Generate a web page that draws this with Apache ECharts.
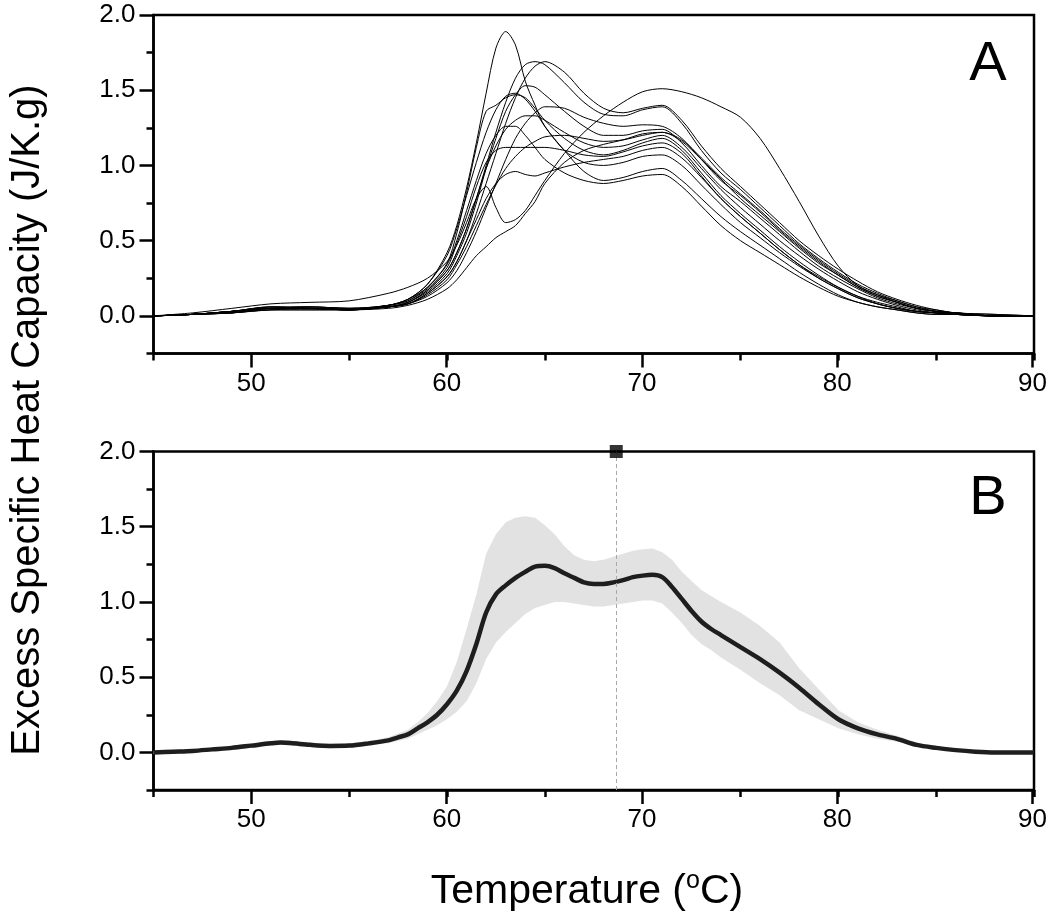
<!DOCTYPE html>
<html><head><meta charset="utf-8">
<script src="https://cdn.jsdelivr.net/npm/echarts@6/dist/echarts.min.js"></script>
<style>html,body{margin:0;padding:0;background:#fff}#chart{width:1050px;height:918px}</style>
</head><body><div id="chart"></div>
<script>
// ---------- Panel A: individual DSC curves ----------
const tempsA = [45,47,49,51,53,55,57,58,59,60,60.5,61,61.5,62,62.5,63,63.5,64,64.5,65,66,67,68,69,70,71,72,73,74,75,76,77,78,79,80,81,82,83,84,85,86,88,90];
const curve1  = [0.00,0.01,0.03,0.06,0.05,0.04,0.07,0.11,0.21, 0.42,0.60,0.85,1.15,1.48,1.78,1.89,1.80,1.56,1.40,1.26,1.10,0.96,0.90,0.92,0.96,0.98,0.90,0.78,0.66,0.56,0.47,0.38,0.29,0.21,0.14,0.09,0.06,0.04,0.02,0.01,0.01,0.00,0.00];
const curve2  = [0.00,0.01,0.03,0.05,0.06,0.05,0.06,0.09,0.17, 0.30,0.42,0.58,0.78,1.00,1.22,1.42,1.58,1.67,1.69,1.67,1.55,1.42,1.34,1.33,1.37,1.39,1.28,1.10,0.95,0.84,0.72,0.60,0.48,0.38,0.29,0.21,0.15,0.10,0.06,0.03,0.02,0.00,0.00];
const curve3  = [0.00,0.01,0.02,0.05,0.05,0.04,0.06,0.08,0.15, 0.26,0.36,0.50,0.68,0.88,1.08,1.28,1.45,1.58,1.66,1.69,1.62,1.48,1.38,1.35,1.38,1.40,1.30,1.13,0.98,0.86,0.74,0.62,0.50,0.40,0.31,0.23,0.16,0.11,0.07,0.04,0.02,0.01,0.00];
const curve4  = [0.00,0.01,0.03,0.06,0.05,0.05,0.06,0.09,0.16, 0.28,0.40,0.55,0.75,0.98,1.18,1.36,1.47,1.53,1.52,1.47,1.36,1.26,1.20,1.20,1.23,1.24,1.15,1.00,0.86,0.76,0.65,0.54,0.43,0.33,0.25,0.18,0.12,0.08,0.05,0.03,0.01,0.00,0.00];
const curve5  = [0.00,0.01,0.03,0.05,0.05,0.04,0.07,0.11,0.19, 0.35,0.55,0.82,1.12,1.36,1.40,1.45,1.47,1.45,1.38,1.30,1.18,1.10,1.07,1.10,1.15,1.18,1.10,0.95,0.80,0.68,0.57,0.46,0.36,0.27,0.19,0.13,0.08,0.05,0.03,0.02,0.01,0.00,0.00];
const curve6  = [0.00,0.01,0.02,0.04,0.04,0.04,0.06,0.08,0.13, 0.22,0.30,0.42,0.56,0.72,0.88,1.04,1.18,1.28,1.35,1.39,1.38,1.32,1.28,1.26,1.27,1.26,1.18,1.04,0.90,0.80,0.69,0.57,0.46,0.36,0.27,0.19,0.13,0.09,0.05,0.03,0.02,0.00,0.00];
const curve7  = [0.00,0.01,0.03,0.05,0.05,0.04,0.06,0.09,0.17, 0.30,0.42,0.58,0.78,0.98,1.13,1.24,1.30,1.33,1.33,1.30,1.22,1.15,1.12,1.13,1.17,1.20,1.12,0.98,0.84,0.72,0.61,0.50,0.40,0.31,0.23,0.16,0.11,0.07,0.04,0.02,0.01,0.00,0.00];
const curve8  = [0.00,0.01,0.03,0.05,0.06,0.05,0.07,0.10,0.18, 0.32,0.48,0.66,0.86,1.02,1.10,1.12,1.12,1.12,1.12,1.12,1.10,1.07,1.06,1.09,1.13,1.15,1.08,0.93,0.78,0.66,0.55,0.44,0.34,0.25,0.18,0.12,0.08,0.05,0.03,0.02,0.01,0.00,0.00];
const curve9  = [0.00,0.01,0.02,0.05,0.05,0.04,0.06,0.08,0.15, 0.26,0.36,0.50,0.64,0.78,0.88,0.94,0.96,0.94,0.93,0.95,0.99,1.02,1.04,1.06,1.10,1.12,1.05,0.92,0.78,0.66,0.55,0.44,0.34,0.26,0.19,0.13,0.09,0.06,0.03,0.02,0.01,0.00,0.00];
const curve10 = [0.00,0.02,0.05,0.08,0.09,0.10,0.15,0.19,0.25, 0.36,0.47,0.62,0.78,0.86,0.72,0.62,0.64,0.70,0.80,0.90,1.08,1.22,1.33,1.42,1.49,1.51,1.49,1.45,1.39,1.32,1.18,0.98,0.76,0.53,0.33,0.20,0.14,0.10,0.06,0.04,0.02,0.01,0.00];
const curve11 = [0.00,0.01,0.02,0.04,0.04,0.04,0.05,0.07,0.11, 0.18,0.24,0.32,0.40,0.46,0.52,0.56,0.60,0.68,0.76,0.88,1.02,1.10,1.14,1.17,1.21,1.22,1.17,1.05,0.92,0.81,0.70,0.58,0.47,0.37,0.28,0.20,0.14,0.09,0.05,0.03,0.02,0.00,0.00];
const curve12 = [0.00,0.01,0.03,0.05,0.05,0.04,0.07,0.10,0.19, 0.34,0.50,0.70,0.90,1.08,1.20,1.26,1.26,1.20,1.12,1.04,0.95,0.90,0.88,0.90,0.93,0.94,0.86,0.73,0.60,0.50,0.42,0.34,0.26,0.19,0.13,0.09,0.06,0.04,0.02,0.01,0.01,0.00,0.00];
const curve13 = [0.00,0.01,0.03,0.06,0.06,0.05,0.07,0.11,0.21, 0.40,0.58,0.80,1.02,1.22,1.37,1.46,1.48,1.44,1.36,1.26,1.10,1.02,1.00,1.02,1.06,1.07,1.00,0.87,0.74,0.62,0.52,0.42,0.33,0.25,0.18,0.12,0.08,0.05,0.03,0.02,0.01,0.00,0.00];
const curve14 = [0.00,0.01,0.02,0.04,0.05,0.04,0.06,0.08,0.14, 0.24,0.34,0.46,0.60,0.74,0.87,0.98,1.06,1.12,1.16,1.19,1.20,1.18,1.16,1.17,1.20,1.22,1.16,1.04,0.91,0.78,0.67,0.56,0.45,0.35,0.27,0.19,0.13,0.09,0.05,0.03,0.02,0.00,0.00];
const curvesA = [curve1,curve2,curve3,curve4,curve5,curve6,curve7,curve8,curve9,curve10,curve11,curve12,curve13,curve14];

// ---------- Panel B: mean curve with error bars ----------
const tempsB = [45,46,47,48,49,50,51,51.5,52,53,54,55,56,57,57.5,58,58.5,59,59.5,60,60.5,61,61.5,62,62.5,63,63.5,64,64.5,65,65.5,66,66.5,67,67.5,68,68.5,69,69.5,70,70.5,71,71.5,72,72.5,73,73.5,74,75,76,77,78,79,80,81,82,83,84,85,86,87,88,89,90];
const meanB  = [0.00,0.005,0.01,0.02,0.03,0.045,0.06,0.065,0.062,0.05,0.043,0.045,0.06,0.08,0.10,0.12,0.16,0.20,0.25,0.32,0.41,0.54,0.72,0.93,1.05,1.11,1.16,1.20,1.235,1.24,1.225,1.19,1.16,1.13,1.12,1.12,1.13,1.145,1.165,1.175,1.18,1.165,1.10,1.02,0.94,0.87,0.82,0.78,0.70,0.62,0.53,0.43,0.32,0.22,0.16,0.12,0.09,0.05,0.03,0.015,0.005,0.00,0.00,0.00];
const upperB = [0.01,0.015,0.02,0.03,0.045,0.06,0.075,0.08,0.078,0.065,0.058,0.06,0.075,0.10,0.125,0.15,0.20,0.26,0.34,0.44,0.60,0.82,1.05,1.32,1.45,1.53,1.56,1.57,1.56,1.51,1.45,1.37,1.31,1.28,1.27,1.28,1.30,1.32,1.34,1.35,1.355,1.33,1.28,1.20,1.14,1.08,1.04,1.00,0.93,0.84,0.73,0.56,0.42,0.28,0.20,0.15,0.11,0.065,0.04,0.025,0.012,0.008,0.008,0.008];
const lowerB = [-0.01,-0.005,0.00,0.01,0.015,0.03,0.045,0.05,0.046,0.035,0.028,0.03,0.045,0.06,0.075,0.09,0.12,0.15,0.18,0.22,0.27,0.34,0.46,0.62,0.73,0.80,0.86,0.92,0.96,0.98,1.00,1.00,0.99,0.98,0.97,0.97,0.98,0.99,1.00,1.01,1.01,0.99,0.93,0.86,0.78,0.72,0.68,0.63,0.55,0.46,0.38,0.28,0.22,0.16,0.12,0.09,0.07,0.04,0.02,0.005,-0.002,-0.008,-0.008,-0.008];
const markerTemp = 68.65;
const markerValue = 2.0;

// ---------- Axes / text ----------
const xMin = 45, xMax = 90, xMinorStep = 5, xMajorMin = 50, xMajorStep = 10;
const yMin = -0.25, yMax = 2.0, yMinorStep = 0.25, yMajorMin = 0, yMajorStep = 0.5;
const xTitleMain = 'Temperature (';
const xTitleSup = 'o';
const xTitleEnd = 'C)';
const yTitle = 'Excess Specific Heat Capacity (J/K.g)';
const panelLabels = ['A','B'];

const FONT = '"Liberation Sans", Arial, Helvetica, sans-serif';
const chart = echarts.init(document.getElementById('chart'), null, {renderer:'canvas'});

const PL = 153.5, PR = 16, PW = 1050 - PL - PR, PH = 338.5;
const panelTops = [15, 451.5];
const grids = [], xAxis = [], yAxis = [];
const lineStyle = {color:'#000', width:2.5};
panelTops.forEach(top => {
  // main grid (data + minor ticks + frame)
  grids.push({left:PL, right:PR, top:top, height:PH, show:true, borderColor:'#000', borderWidth:2.5});
  xAxis.push({type:'value', gridIndex:grids.length-1, min:xMin, max:xMax, interval:xMinorStep, splitLine:{show:false},
    axisLine:{onZero:false, lineStyle}, axisTick:{length:7, lineStyle}, axisLabel:{show:false}});
  yAxis.push({type:'value', gridIndex:grids.length-1, min:yMin, max:yMax, interval:yMinorStep, splitLine:{show:false},
    axisLine:{onZero:false, lineStyle}, axisTick:{length:7, lineStyle}, axisLabel:{show:false}});
  // overlay grid for major x ticks + labels (axis starts at first major tick)
  const xOff = PW * (xMajorMin - xMin) / (xMax - xMin);
  grids.push({left:PL + xOff, right:PR, top:top, height:PH, show:false});
  xAxis.push({type:'value', gridIndex:grids.length-1, min:xMajorMin, max:xMax, interval:xMajorStep, splitLine:{show:false},
    axisLine:{show:false, onZero:false}, axisTick:{length:14, lineStyle},
    axisLabel:{color:'#000', fontSize:26, fontFamily:FONT, margin:17}});
  yAxis.push({type:'value', gridIndex:grids.length-1, min:yMin, max:yMax, show:false});
  // overlay grid for major y ticks + labels (axis starts at first major tick)
  const yH = PH * (yMax - yMajorMin) / (yMax - yMin);
  grids.push({left:PL, right:PR, top:top, height:yH, show:false});
  xAxis.push({type:'value', gridIndex:grids.length-1, min:xMin, max:xMax, show:false});
  yAxis.push({type:'value', gridIndex:grids.length-1, min:yMajorMin, max:yMax, interval:yMajorStep, splitLine:{show:false},
    axisLine:{show:false, onZero:false}, axisTick:{length:14, lineStyle},
    axisLabel:{color:'#000', fontSize:26, fontFamily:FONT, margin:18, formatter:v=>Number(v).toFixed(1)}});
});
const A = 0, B = 3; // axis indices of the data grids

const series = [];
curvesA.forEach((c,k)=>{
  series.push({type:'line', name:'run'+(k+1), xAxisIndex:A, yAxisIndex:A, showSymbol:false, smooth:0.3,
    data: tempsA.map((t,i)=>[t,c[i]]), lineStyle:{color:'#000', width:1}, silent:true, z:3});
});
// error band
series.push({type:'custom', xAxisIndex:B, yAxisIndex:B, silent:true, z:2,
  data: tempsB.map((t,i)=>[t, lowerB[i], upperB[i]]),
  renderItem:(params, api)=>{
    if (params.dataIndex !== 0) return null;
    const top = [], bot = [];
    for (let i=0;i<tempsB.length;i++){
      top.push(api.coord([tempsB[i], upperB[i]]));
      bot.push(api.coord([tempsB[i], lowerB[i]]));
    }
    return {type:'polygon', shape:{points: top.concat(bot.reverse())}, style:{fill:'#e2e2e2', stroke:null}};
  }});
// mean curve
series.push({type:'line', xAxisIndex:B, yAxisIndex:B, showSymbol:false, smooth:0.3,
  data: tempsB.map((t,i)=>[t, meanB[i]]), lineStyle:{color:'#1e1e1e', width:4.5}, silent:true, z:4,
  markLine:{silent:true, symbol:'none', label:{show:false},
    lineStyle:{type:[4,3], color:'#a8a8a8', width:1}, data:[{xAxis:markerTemp}]}});
// square marker on top border
series.push({type:'scatter', xAxisIndex:B, yAxisIndex:B, symbol:'rect', symbolSize:13, clip:false,
  itemStyle:{color:'#000'}, data:[[markerTemp, markerValue]], silent:true, z:6});

chart.setOption({
  backgroundColor:'#fff',
  animation:false,
  grid: grids, xAxis: xAxis, yAxis: yAxis,
  series: series,
  graphic: [
    {type:'text', x:988, y:65, style:{text:panelLabels[0], fontSize:56, fontFamily:FONT, fill:'#000', align:'center', verticalAlign:'middle'}},
    {type:'text', x:988, y:499, style:{text:panelLabels[1], fontSize:56, fontFamily:FONT, fill:'#000', align:'center', verticalAlign:'middle'}},
    {type:'text', x:587, y:892, style:{
      text:'{n|'+xTitleMain+'}{s|'+xTitleSup+'}{n|'+xTitleEnd+'}',
      align:'center', verticalAlign:'middle', fill:'#000',
      rich:{n:{fontSize:41, fontFamily:FONT, lineHeight:46, fill:'#000'},
            s:{fontSize:25, fontFamily:FONT, verticalAlign:'top', lineHeight:26, fill:'#000'}}}},
    {type:'text', x:28, y:420, rotation:Math.PI/2, style:{text:yTitle, fontSize:40, fontFamily:FONT, fill:'#000', align:'center', verticalAlign:'middle'}}
  ]
});
</script></body></html>
